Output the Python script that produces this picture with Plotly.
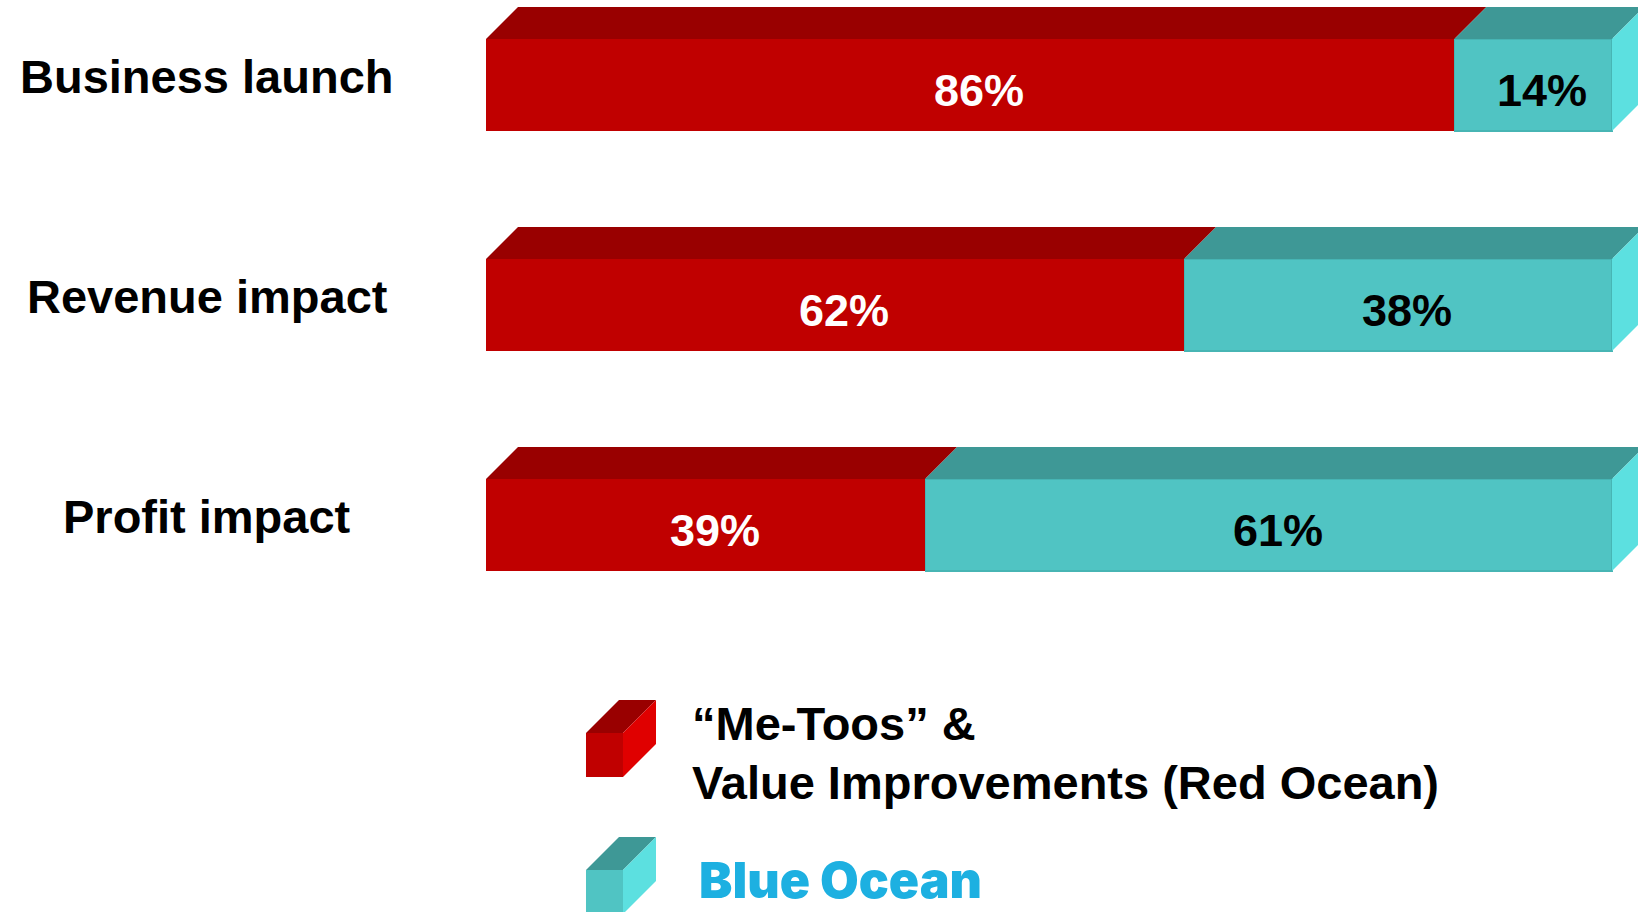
import plotly.graph_objects as go

# ---------------- data ----------------
categories = ["Business launch", "Revenue impact", "Profit impact"]
red_ocean = [86, 62, 39]
blue_ocean = [14, 38, 61]
legend_red_lines = ["\u201cMe-Toos\u201d &", "Value Improvements (Red Ocean)"]
legend_blue = "Blue Ocean"

# ---------------- layout constants ----------------
W, H = 1638, 912
X0_PX, PX_PER_PCT = 486, 11.26      # where 0% sits and scale of x axis
Y0_PX, PX_PER_ROW = 85, 220         # centre of first row and row spacing
BAR_W = 0.418                       # bar thickness in row units
DEPTH_PX = 32                       # 3D extrusion depth

RED_FRONT, RED_TOP, RED_SIDE = "#C00000", "#990000", "#E00000"
TEAL_FRONT, TEAL_TOP, TEAL_SIDE = "#50C4C3", "#3E9896", "#5CE0E0"
BLUE_TEXT = "#1DB0E1"
FONT = "Liberation Sans, Arial, sans-serif"

dx = DEPTH_PX / PX_PER_PCT
dy = DEPTH_PX / PX_PER_ROW
rows = list(range(len(categories)))

fig = go.Figure()

# front faces (stacked horizontal bars)
fig.add_trace(go.Bar(y=rows, x=red_ocean, orientation="h", width=BAR_W,
                     marker=dict(color=RED_FRONT, line=dict(width=0)),
                     hoverinfo="skip", showlegend=False))
fig.add_trace(go.Bar(y=rows, x=blue_ocean, base=red_ocean, orientation="h", width=BAR_W,
                     marker=dict(color=TEAL_FRONT, line=dict(width=1.2, color="#47B5B4")),
                     hoverinfo="skip", showlegend=False))


def poly(xs, ys, color):
    fig.add_trace(go.Scatter(x=xs + [xs[0]], y=ys + [ys[0]], mode="lines", fill="toself",
                             fillcolor=color, line=dict(width=0, color=color),
                             hoverinfo="skip", showlegend=False))


# top faces and side face
for i, (r, b) in enumerate(zip(red_ocean, blue_ocean)):
    top = i - BAR_W / 2
    bot = i + BAR_W / 2
    segs = [(0, r, RED_TOP), (r, r + b, TEAL_TOP)]
    for L, R, c in segs:
        poly([L, R, R + dx, L + dx], [top, top, top - dy, top - dy], c)
    R = r + b
    poly([R, R + dx, R + dx, R], [top, top - dy, bot - dy, bot], TEAL_SIDE)

annotations = []
# category labels
for i, c in enumerate(categories):
    annotations.append(dict(x=207 / W, xref="paper", y=i, yref="y", text=c,
                            showarrow=False, xanchor="center", yanchor="middle", yshift=9,
                            font=dict(family=FONT, size=47, color="black", weight="bold")))
# value labels
for i, (r, b) in enumerate(zip(red_ocean, blue_ocean)):
    annotations.append(dict(x=r / 2, y=i, text=f"{r}%", showarrow=False, xshift=9, yshift=-5,
                            font=dict(family=FONT, size=45, color="white", weight="bold")))
    annotations.append(dict(x=r + b / 2, y=i, text=f"{b}%", showarrow=False, xshift=9, yshift=-5,
                            font=dict(family=FONT, size=45, color="black", weight="bold")))


# legend (paper-pixel helpers)
def px(x):
    return x / W


def py(y):
    return 1 - y / H


def cube_path(x0, y0, w, h, d):
    pts_front = [(x0, y0), (x0 + w, y0), (x0 + w, y0 + h), (x0, y0 + h)]
    pts_top = [(x0, y0), (x0 + w, y0), (x0 + w + d, y0 - d), (x0 + d, y0 - d)]
    pts_side = [(x0 + w, y0), (x0 + w + d, y0 - d), (x0 + w + d, y0 + h - d), (x0 + w, y0 + h)]

    def p(pts):
        return "M " + " L ".join(f"{px(a):.5f},{py(b):.5f}" for a, b in pts) + " Z"
    return p(pts_front), p(pts_top), p(pts_side)


shapes = []
for (y0, cols) in [(733, (RED_FRONT, RED_TOP, RED_SIDE)), (870, (TEAL_FRONT, TEAL_TOP, TEAL_SIDE))]:
    for path, col in zip(cube_path(586, y0, 37, 44, 33), cols):
        shapes.append(dict(type="path", path=path, xref="paper", yref="paper",
                           fillcolor=col, line=dict(width=0)))

annotations.append(dict(x=px(690), y=py(723), xref="paper", yref="paper", text=legend_red_lines[0],
                        showarrow=False, xanchor="left", yanchor="middle",
                        font=dict(family=FONT, size=47, color="black", weight="bold")))
annotations.append(dict(x=px(690), y=py(782), xref="paper", yref="paper", text=legend_red_lines[1],
                        showarrow=False, xanchor="left", yanchor="middle",
                        font=dict(family=FONT, size=47, color="black", weight="bold")))
annotations.append(dict(x=px(697), y=py(880), xref="paper", yref="paper", text=legend_blue,
                        showarrow=False, xanchor="left", yanchor="middle",
                        font=dict(family="Inter, Liberation Sans, sans-serif", size=50,
                                  color=BLUE_TEXT, weight=900)))

fig.update_layout(
    width=W, height=H, margin=dict(l=0, r=0, t=0, b=0),
    paper_bgcolor="white", plot_bgcolor="white",
    barmode="stack", showlegend=False,
    xaxis=dict(range=[-X0_PX / PX_PER_PCT, (W - X0_PX) / PX_PER_PCT], visible=False, fixedrange=True),
    yaxis=dict(range=[(H - Y0_PX) / PX_PER_ROW, -Y0_PX / PX_PER_ROW], visible=False, fixedrange=True),
    annotations=annotations, shapes=shapes,
)

fig.write_html("out.html", config={"displayModeBar": False})
